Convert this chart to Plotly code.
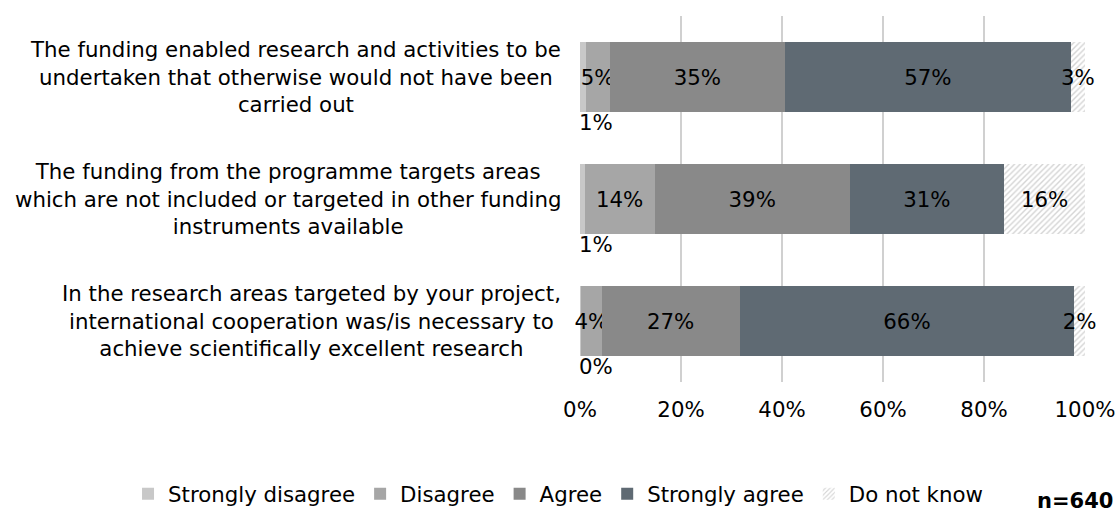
import plotly.graph_objects as go

statements = [
    "The funding enabled research and activities to be<br>undertaken that otherwise would not have been<br>carried out",
    "The funding from the programme targets areas<br>which are not included or targeted in other funding<br>instruments available",
    "In the research areas targeted by your project,<br>international cooperation was/is necessary to<br>achieve scientifically excellent research",
]
cat_ids = ["s1", "s2", "s3"]

series_names = ["Strongly disagree", "Disagree", "Agree", "Strongly agree", "Do not know"]
strongly_disagree = [1.1, 0.9, 0.2]
disagree = [4.8, 13.9, 4.1]
agree = [34.7, 38.6, 27.3]
strongly_agree = [56.6, 30.6, 66.3]
do_not_know = [2.8, 16.0, 2.1]

x_ticks = [0, 20, 40, 60, 80, 100]
x_tick_labels = ["0%", "20%", "40%", "60%", "80%", "100%"]
sample_note = "n=640"

colors = ["#c8c8c8", "#a6a6a6", "#898989", "#5f6a73", "#ffffff"]
FONT = "DejaVu Sans"
FS = 21.3

fig = go.Figure()
all_series = [strongly_disagree, disagree, agree, strongly_agree, do_not_know]
for i, (name, vals) in enumerate(zip(series_names, all_series)):
    labels = [f"{round(v):.0f}%" for v in vals]
    marker = dict(color=colors[i], line=dict(width=0))
    if name == "Do not know":
        marker = dict(color="#ffffff", line=dict(width=0),
                      pattern=dict(shape="/", fgcolor="#aaaaaa", bgcolor="#ffffff",
                                   size=4, solidity=0.35))
    show_text = name != "Strongly disagree"
    fig.add_trace(go.Bar(
        name=name, y=cat_ids, x=vals, orientation="h", marker=marker,
        text=labels if show_text else None,
        textposition="inside" if show_text else "none",
        insidetextanchor="middle", textangle=0, constraintext="none",
        textfont=dict(family=FONT, size=FS, color="#000000"),
        cliponaxis=False, hoverinfo="x+name",
    ))

# strongly disagree labels placed below the bars
for cid, v in zip(cat_ids, strongly_disagree):
    fig.add_annotation(x=0, y=cid, xref="x", yref="y", text=f"{round(v):.0f}%",
                       showarrow=False, xanchor="left", yanchor="middle", yshift=-45,
                       xshift=-3, font=dict(family=FONT, size=FS, color="#000000"))

# category labels (centered multi-line)
for cid, s in zip(cat_ids, statements):
    fig.add_annotation(x=0, y=cid, xref="paper", yref="y", text=s, showarrow=False,
                       xanchor="right", yanchor="middle", align="center", xshift=-17,
                       font=dict(family=FONT, size=FS, color="#000000"))

fig.add_annotation(x=1.059, y=-0.325, xref="paper", yref="paper", text=f"<b>{sample_note}</b>",
                   showarrow=False, xanchor="right", yanchor="middle",
                   font=dict(family=FONT, size=21, color="#000000"))

fig.update_layout(
    barmode="stack",
    bargap=0.43,
    width=1117, height=513,
    margin=dict(l=580, r=32, t=16, b=131, autoexpand=False),
    paper_bgcolor="white", plot_bgcolor="white",
    font=dict(family=FONT, size=FS, color="#000000"),
    xaxis=dict(range=[0, 100], tickvals=x_ticks, ticktext=x_tick_labels,
               showgrid=True, gridcolor="#d0d0d0", gridwidth=2, zeroline=False,
               showline=False, ticks="", ticklabelstandoff=13, automargin=False,
               tickfont=dict(family=FONT, size=FS, color="#000000")),
    yaxis=dict(autorange="reversed", showticklabels=False, showgrid=False,
               zeroline=False, showline=False, ticks="", automargin=False),
    legend=dict(orientation="h", xref="paper", yref="paper",
                x=-0.895, y=-0.306, xanchor="left", yanchor="middle",
                font=dict(family=FONT, size=FS, color="#000000"),
                traceorder="normal", itemclick=False, itemwidth=30),
    showlegend=True,
)

fig.write_html("out.html",
               config={"displayModeBar": False},
               post_script="document.body.style.margin='0';document.body.style.overflow='hidden';")
